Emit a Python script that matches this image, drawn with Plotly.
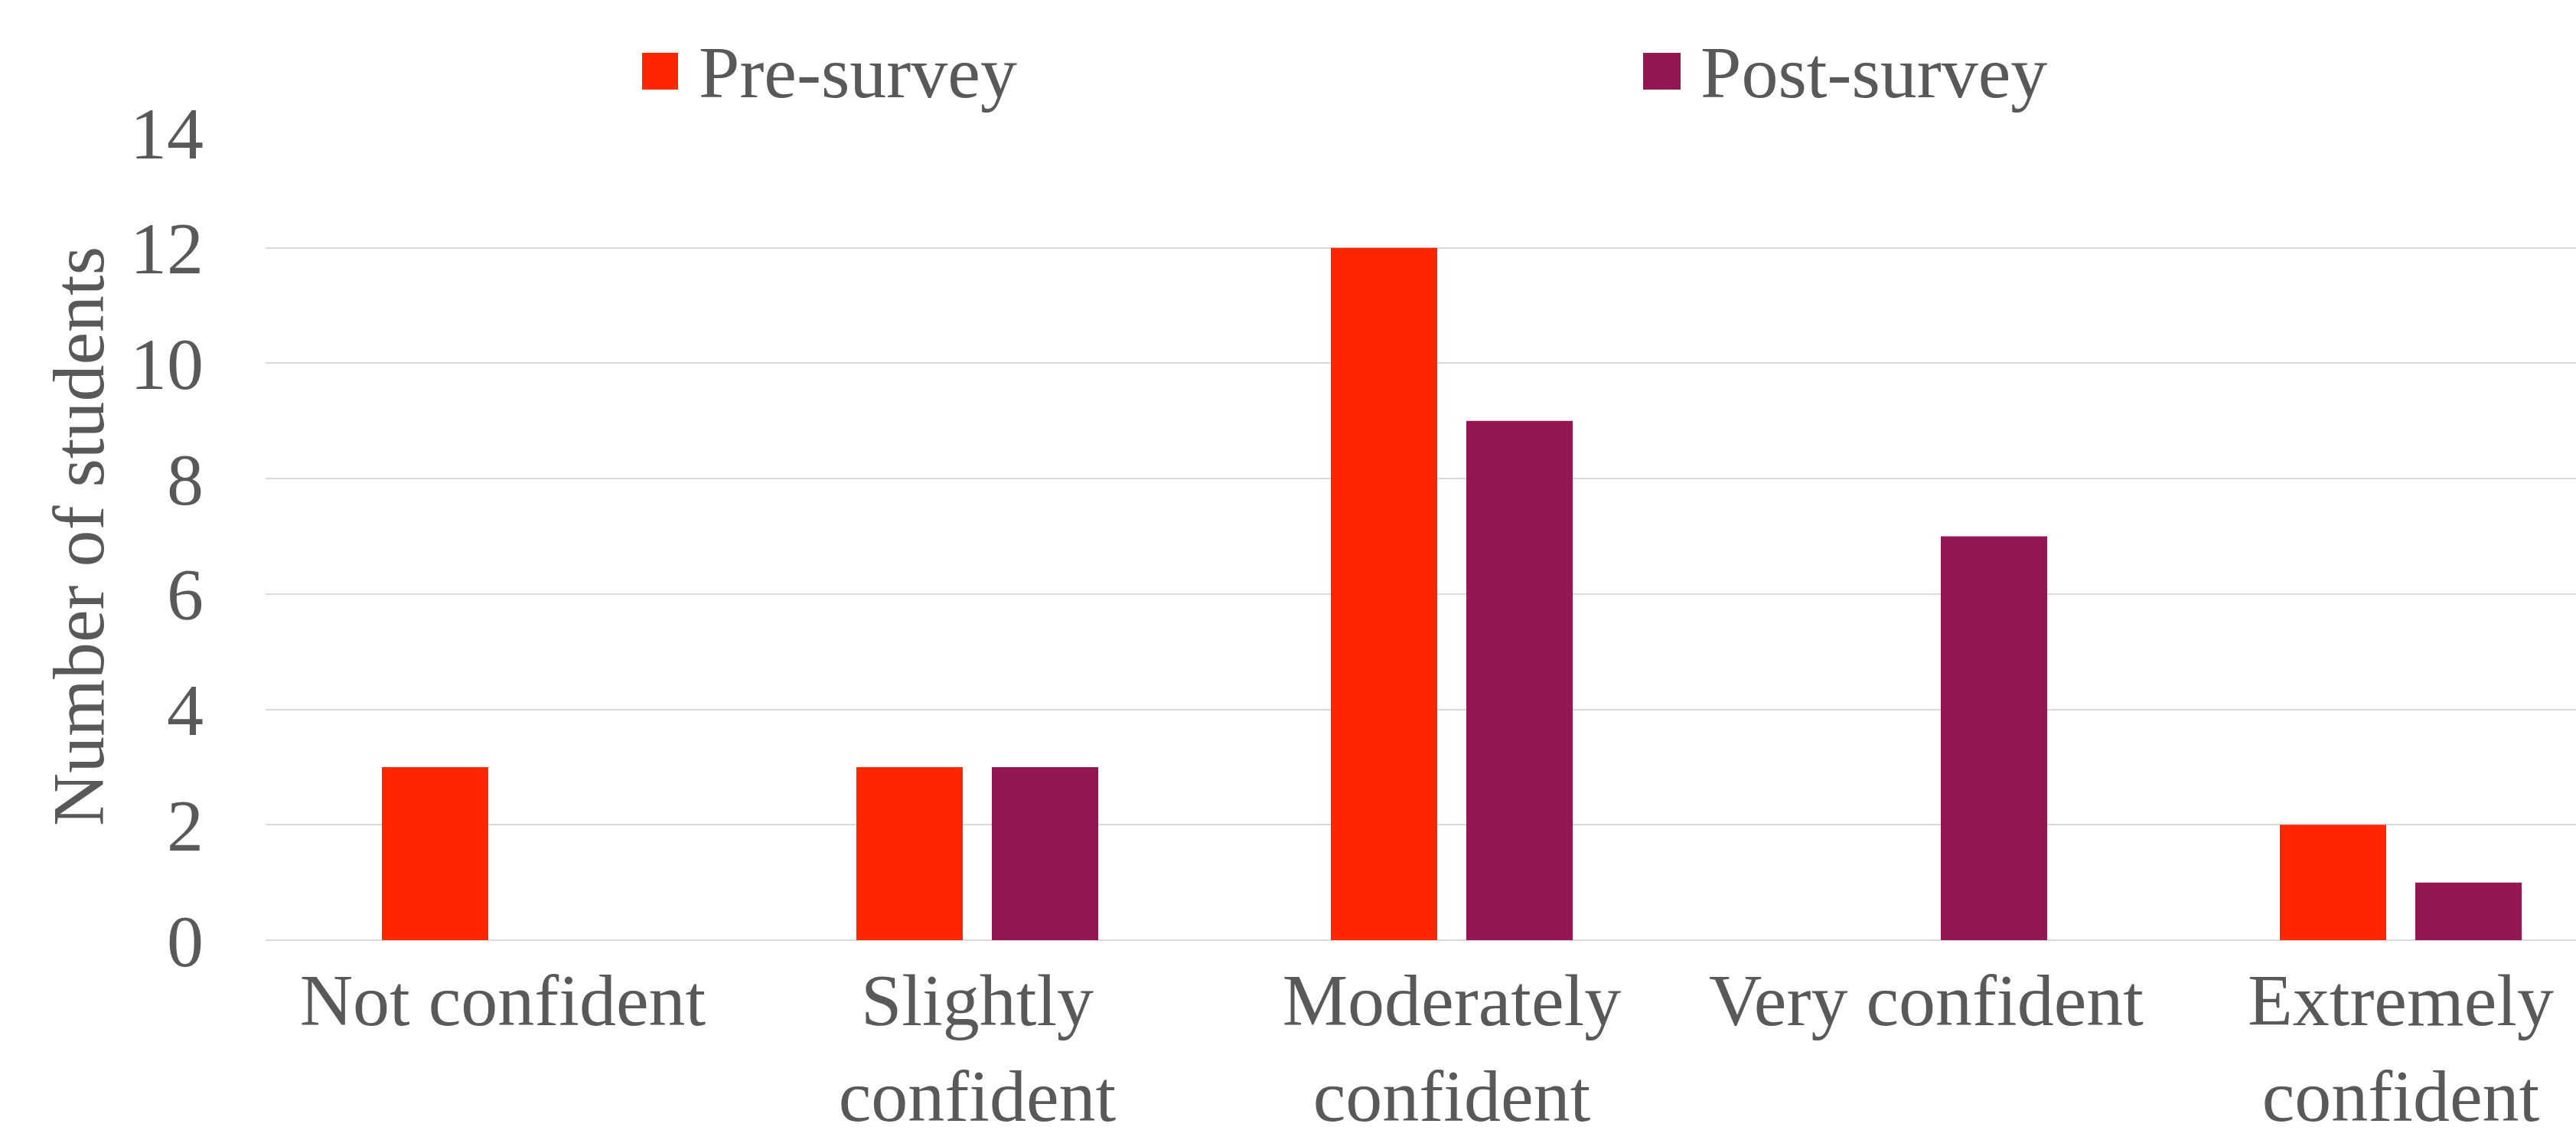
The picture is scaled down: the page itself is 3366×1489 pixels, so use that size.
import plotly.graph_objects as go

categories = ["Not confident", "Slightly confident", "Moderately confident",
              "Very confident", "Extremely confident"]
tick_text = ["Not confident", "Slightly<br>confident", "Moderately<br>confident",
             "Very confident", "Extremely<br>confident"]
pre_survey = [3, 3, 12, 0, 2]
post_survey = [0, 3, 9, 7, 1]
y_ticks = [0, 2, 4, 6, 8, 10, 12, 14]

PRE_COLOR = "#FF2600"
POST_COLOR = "#941751"
TEXT_COLOR = "#595959"
GRID_COLOR = "#D9D9D9"
FONT = "Times New Roman, Liberation Serif, serif"
FS = 96

W, H = 3366, 1489
ML, MR, MT, MB = 347, 0, 173, 261
plot_w = W - ML - MR
plot_h = H - MT - MB
cat_px = 620.0
x_lo = -0.5
x_hi = x_lo + plot_w / cat_px

bar_w = 139 / cat_px
half_gap = 19 / cat_px
xs = list(range(len(categories)))

fig = go.Figure()
fig.add_trace(go.Bar(
    x=xs, y=pre_survey, name="Pre-survey",
    marker=dict(color=PRE_COLOR, line=dict(width=0)),
    width=bar_w, offset=-(bar_w + half_gap), showlegend=False,
    hovertext=categories,
))
fig.add_trace(go.Bar(
    x=xs, y=post_survey, name="Post-survey",
    marker=dict(color=POST_COLOR, line=dict(width=0)),
    width=bar_w, offset=half_gap, showlegend=False,
    hovertext=categories,
))

def px_x(p):
    return (p - ML) / plot_w

def px_y(p):
    return (H - MB - p) / plot_h

legend_items = [("Pre-survey", PRE_COLOR, 839, 886, 911),
                ("Post-survey", POST_COLOR, 2147, 2196, 2220)]
shapes = []
annotations = []
for label, color, sx0, sx1, tx in legend_items:
    shapes.append(dict(type="rect", xref="paper", yref="paper",
                       x0=px_x(sx0), x1=px_x(sx1), y0=px_y(117), y1=px_y(69),
                       fillcolor=color, line=dict(width=0)))
    annotations.append(dict(text=label, xref="paper", yref="paper",
                            x=px_x(tx), y=px_y(94), xanchor="left", yanchor="middle",
                            showarrow=False,
                            font=dict(family=FONT, size=FS, color=TEXT_COLOR)))

fig.update_layout(
    width=W, height=H,
    margin=dict(l=ML, r=MR, t=MT, b=MB, pad=0, autoexpand=False),
    paper_bgcolor="white", plot_bgcolor="white",
    font=dict(family=FONT, size=FS, color=TEXT_COLOR),
    showlegend=False,
    shapes=shapes,
    annotations=annotations,
    xaxis=dict(
        range=[x_lo, x_hi], tickmode="array", tickvals=xs, ticktext=tick_text,
        showgrid=False, zeroline=False, showline=False, ticks="",
        tickfont=dict(family=FONT, size=FS, color=TEXT_COLOR),
        ticklabelstandoff=14, automargin=False,
    ),
    yaxis=dict(
        range=[0, 14], tickmode="array", tickvals=y_ticks,
        showgrid=True, gridcolor=GRID_COLOR, gridwidth=2,
        zeroline=True, zerolinecolor=GRID_COLOR, zerolinewidth=2,
        showline=False, ticks="", automargin=False,
        tickfont=dict(family=FONT, size=FS, color=TEXT_COLOR),
        ticklabelstandoff=80,
        title=dict(text="Number of students", standoff=2,
                   font=dict(family=FONT, size=FS, color=TEXT_COLOR)),
    ),
)

fig.write_html("out.html")
